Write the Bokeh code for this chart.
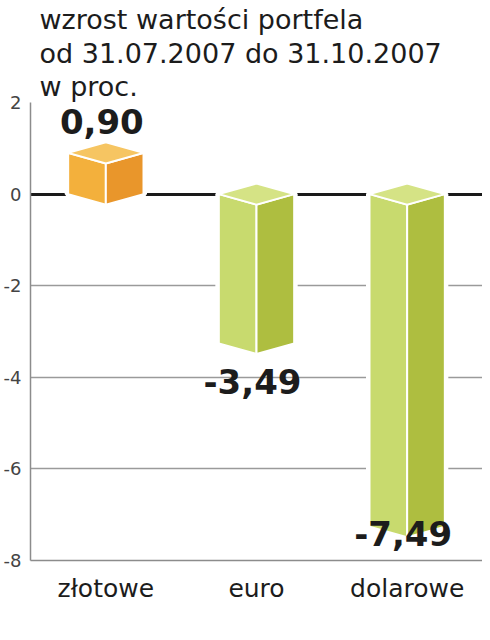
from bokeh.plotting import figure
from bokeh.models import Range1d, FixedTicker, Title, ColumnDataSource
from bokeh.core.properties import value
from bokeh.embed import file_html
from bokeh.resources import INLINE

# ---- data ----
categories = ["złotowe", "euro", "dolarowe"]
values = [0.90, -3.49, -7.49]
value_labels = ["0,90", "-3,49", "-7,49"]
y_ticks = [-8, -6, -4, -2, 0, 2]
y_tick_labels = ["-8", "-6", "-4", "-2", "0", "2"]
title_lines = ["wzrost wartości portfela", "od 31.07.2007 do 31.10.2007", "w proc."]

# ---- style ----
POS = {"left": "#F3B03C", "right": "#E9962B", "top": "#F6C562"}
NEG = {"left": "#C8DA6E", "right": "#AEBE40", "top": "#D5E385"}
Y_MIN, Y_MAX = -8, 2
HALF_W = 0.25
D = 0.23
TXT = "#1c1c1c"
TITLE_STANDOFFS = [2, 0, 1]

p = figure(width=482, height=628, x_range=Range1d(0, len(categories)),
           y_range=Range1d(Y_MIN, Y_MAX), output_backend="svg",
           toolbar_location=None, min_border_left=28, min_border_right=0,
           min_border_top=0, min_border_bottom=68)
p.outline_line_color = None

# axes
p.xaxis.ticker = FixedTicker(ticks=[i + 0.5 for i in range(len(categories))])
p.xaxis.major_label_overrides = {i + 0.5: c for i, c in enumerate(categories)}
p.xaxis.axis_line_color = "#8c8c8c"
p.xaxis.axis_line_width = 1.5
p.xaxis.major_tick_line_color = None
p.xaxis.minor_tick_line_color = None
p.xaxis.major_tick_in = 0
p.xaxis.major_tick_out = 0
p.xaxis.major_label_standoff = 13
p.xaxis.major_label_text_font = "DejaVu Sans"
p.xaxis.major_label_text_font_size = "25px"
p.xaxis.major_label_text_color = TXT

p.yaxis.ticker = FixedTicker(ticks=y_ticks)
p.yaxis.major_label_overrides = {t: l for t, l in zip(y_ticks, y_tick_labels)}
p.yaxis.axis_line_color = "#8c8c8c"
p.yaxis.axis_line_width = 1.5
p.yaxis.major_tick_line_color = None
p.yaxis.minor_tick_line_color = None
p.yaxis.major_tick_in = 0
p.yaxis.major_tick_out = 0
p.yaxis.major_label_standoff = 9
p.yaxis.major_label_text_font = "DejaVu Sans"
p.yaxis.major_label_text_font_size = "18px"
p.yaxis.major_label_text_color = "#444444"

p.xgrid.grid_line_color = None
p.ygrid.ticker = FixedTicker(ticks=y_ticks)
p.ygrid.grid_line_color = "#9a9a9a"
p.ygrid.grid_line_width = 1.5

# titles (added bottom-up)
for line, so in reversed(list(zip(title_lines, TITLE_STANDOFFS))):
    p.add_layout(Title(text=line, align="left", offset=9, text_font="DejaVu Sans",
                       text_font_size="27px", text_font_style="normal",
                       text_color=TXT, standoff=so), "above")

# zero line
p.hspan(y=[0], line_color="#1a1a1a", line_width=3)

# 3D boxes
sil_xs, sil_ys = [], []
xs, ys, fills = [], [], []
for i, v in enumerate(values):
    c = i + 0.5
    if v >= 0:
        top_side, bot_side = v, 0.0
        col = POS
    else:
        top_side, bot_side = 0.0, v + D
        col = NEG
    l, r = c - HALF_W, c + HALF_W
    sil_xs.append([l, c, r, r, c, l])
    sil_ys.append([bot_side, bot_side - D, bot_side, top_side, top_side + D, top_side])
    xs.append([l, c, c, l]); ys.append([bot_side, bot_side - D, top_side - D, top_side]); fills.append(col["left"])
    xs.append([c, r, r, c]); ys.append([bot_side - D, bot_side, top_side, top_side - D]); fills.append(col["right"])
    xs.append([l, c, r, c]); ys.append([top_side, top_side + D, top_side, top_side - D]); fills.append(col["top"])

p.patches(sil_xs, sil_ys, fill_color="white", line_color="white", line_width=7)
p.patches(xs="xs", ys="ys", fill_color="fills", line_color="white", line_width=2,
          line_join="miter", source=ColumnDataSource(dict(xs=xs, ys=ys, fills=fills)))

# value labels
lab_x, lab_y = [], []
for i, v in enumerate(values):
    lab_x.append(i + 0.5)
    if v >= 0:
        lab_y.append(v + D + 0.45)
    else:
        lab_y.append(max(v - 0.6, Y_MIN + 0.58))
p.text(x=lab_x, y=lab_y, text=value_labels, text_font=value("DejaVu Sans"),
       text_font_style="bold", text_font_size="34px", text_color=TXT,
       text_align="center", text_baseline="alphabetic", x_offset=-4)

open("out.html", "w").write(file_html(p, INLINE))
